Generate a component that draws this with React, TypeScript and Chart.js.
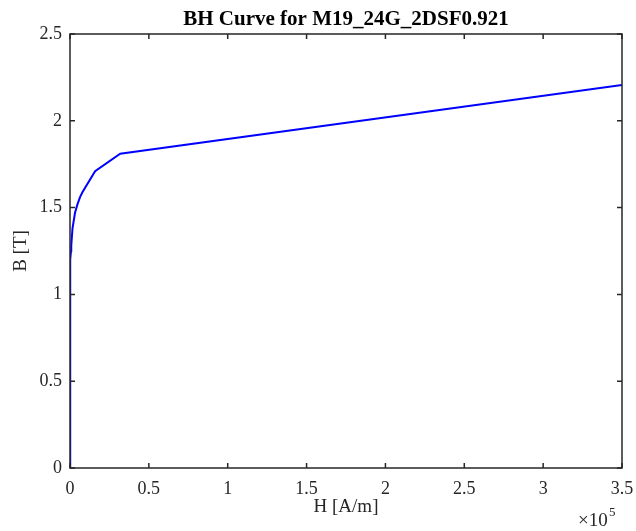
import React, { useEffect, useRef } from "react";
import { Chart, registerables } from "chart.js";

Chart.register(...registerables);

const TITLE = "BH Curve for M19_24G_2DSF0.921";
const X_LABEL = "H [A/m]";
const Y_LABEL = "B [T]";
const H_VALUES = [0, 22.28, 25.46, 31.83, 47.74, 63.66, 79.57, 159.15, 318.3, 477.46, 636.61, 795.77, 1591.5, 3183.1, 4774.6, 6366.2, 7957.7, 15915, 31831, 350000];
const B_VALUES = [0, 0.05, 0.1, 0.15, 0.36, 0.5, 0.65, 0.91, 1.1, 1.2, 1.25, 1.28, 1.38, 1.47, 1.52, 1.56, 1.59, 1.71, 1.81, 2.206];
const X_TICKS = [0, 50000, 100000, 150000, 200000, 250000, 300000, 350000];
const Y_TICKS = [0, 0.5, 1, 1.5, 2, 2.5];

const FONT = '"Liberation Serif", "Times New Roman", serif';
const AXIS_COLOR = "#262626";

const boxPlugin = {
  id: "matlabBox",
  afterDraw(chart: any) {
    const { ctx, chartArea } = chart;
    const { left, right, top, bottom } = chartArea;
    const xs = chart.scales.x;
    const ys = chart.scales.y;
    ctx.save();
    ctx.strokeStyle = AXIS_COLOR;
    ctx.lineWidth = 1.5;
    ctx.strokeRect(left, top, right - left, bottom - top);
    const tl = 5;
    ctx.beginPath();
    X_TICKS.forEach((v) => {
      const px = xs.getPixelForValue(v);
      ctx.moveTo(px, bottom);
      ctx.lineTo(px, bottom - tl);
      ctx.moveTo(px, top);
      ctx.lineTo(px, top + tl);
    });
    Y_TICKS.forEach((v) => {
      const py = ys.getPixelForValue(v);
      ctx.moveTo(left, py);
      ctx.lineTo(left + tl, py);
      ctx.moveTo(right, py);
      ctx.lineTo(right - tl, py);
    });
    ctx.stroke();

    const cx = (left + right) / 2;
    ctx.fillStyle = "#000";
    ctx.font = `bold 21px ${FONT}`;
    ctx.textAlign = "center";
    ctx.textBaseline = "alphabetic";
    ctx.fillText(TITLE, cx, 25);
    ctx.fillStyle = AXIS_COLOR;
    ctx.font = `19px ${FONT}`;
    ctx.fillText(X_LABEL, cx, 512);
    ctx.save();
    ctx.translate(26, (top + bottom) / 2);
    ctx.rotate(-Math.PI / 2);
    ctx.fillText(Y_LABEL, 0, 0);
    ctx.restore();
    ctx.textAlign = "left";
    ctx.font = `19px ${FONT}`;
    ctx.fillText("×10", 578, 526);
    ctx.font = `13px ${FONT}`;
    ctx.fillText("5", 609, 516);
    ctx.restore();
  },
};

export default function App() {
  const ref = useRef<HTMLCanvasElement>(null);
  useEffect(() => {
    const canvas = ref.current;
    if (!canvas) return;
    const points = H_VALUES.map((h, i) => ({ x: h, y: B_VALUES[i] }));
    const chart = new Chart(canvas, {
      type: "line",
      data: {
        datasets: [
          {
            data: points,
            borderColor: "#0000ff",
            borderWidth: 2,
            pointRadius: 0,
            tension: 0,
            fill: false,
          },
        ],
      },
      options: {
        responsive: false,
        animation: false,
        devicePixelRatio: 1,
        layout: { padding: { top: 34, right: 14, left: 0, bottom: 0 } },
        plugins: { legend: { display: false }, tooltip: { enabled: false }, title: { display: false } },
        scales: {
          x: {
            type: "linear",
            min: 0,
            max: 350000,
            afterFit: (s: any) => {
              s.height = 63;
              s.paddingRight = 0;
              s.paddingLeft = 0;
            },
            afterBuildTicks: (s: any) => {
              s.ticks = X_TICKS.map((v) => ({ value: v }));
            },
            grid: { display: false, drawTicks: false },
            border: { display: false },
            ticks: {
              padding: 10,
              autoSkip: false,
              maxRotation: 0,
              color: AXIS_COLOR,
              font: { family: FONT, size: 18 },
              callback: (v: any) => String(Number(v) / 100000),
            },
          },
          y: {
            type: "linear",
            min: 0,
            max: 2.5,
            afterFit: (s: any) => {
              s.width = 70;
              s.paddingTop = 0;
              s.paddingBottom = 0;
            },
            afterBuildTicks: (s: any) => {
              s.ticks = Y_TICKS.map((v) => ({ value: v }));
            },
            grid: { display: false, drawTicks: false },
            border: { display: false },
            ticks: {
              padding: 8,
              autoSkip: false,
              color: AXIS_COLOR,
              font: { family: FONT, size: 18 },
              callback: (v: any) => String(v),
            },
          },
        },
      },
      plugins: [boxPlugin],
    });
    return () => chart.destroy();
  }, []);
  return (
    <div style={{ position: "absolute", left: 0, top: 0, width: 636, height: 531, background: "#fff" }}>
      <canvas ref={ref} width={636} height={531} />
    </div>
  );
}
